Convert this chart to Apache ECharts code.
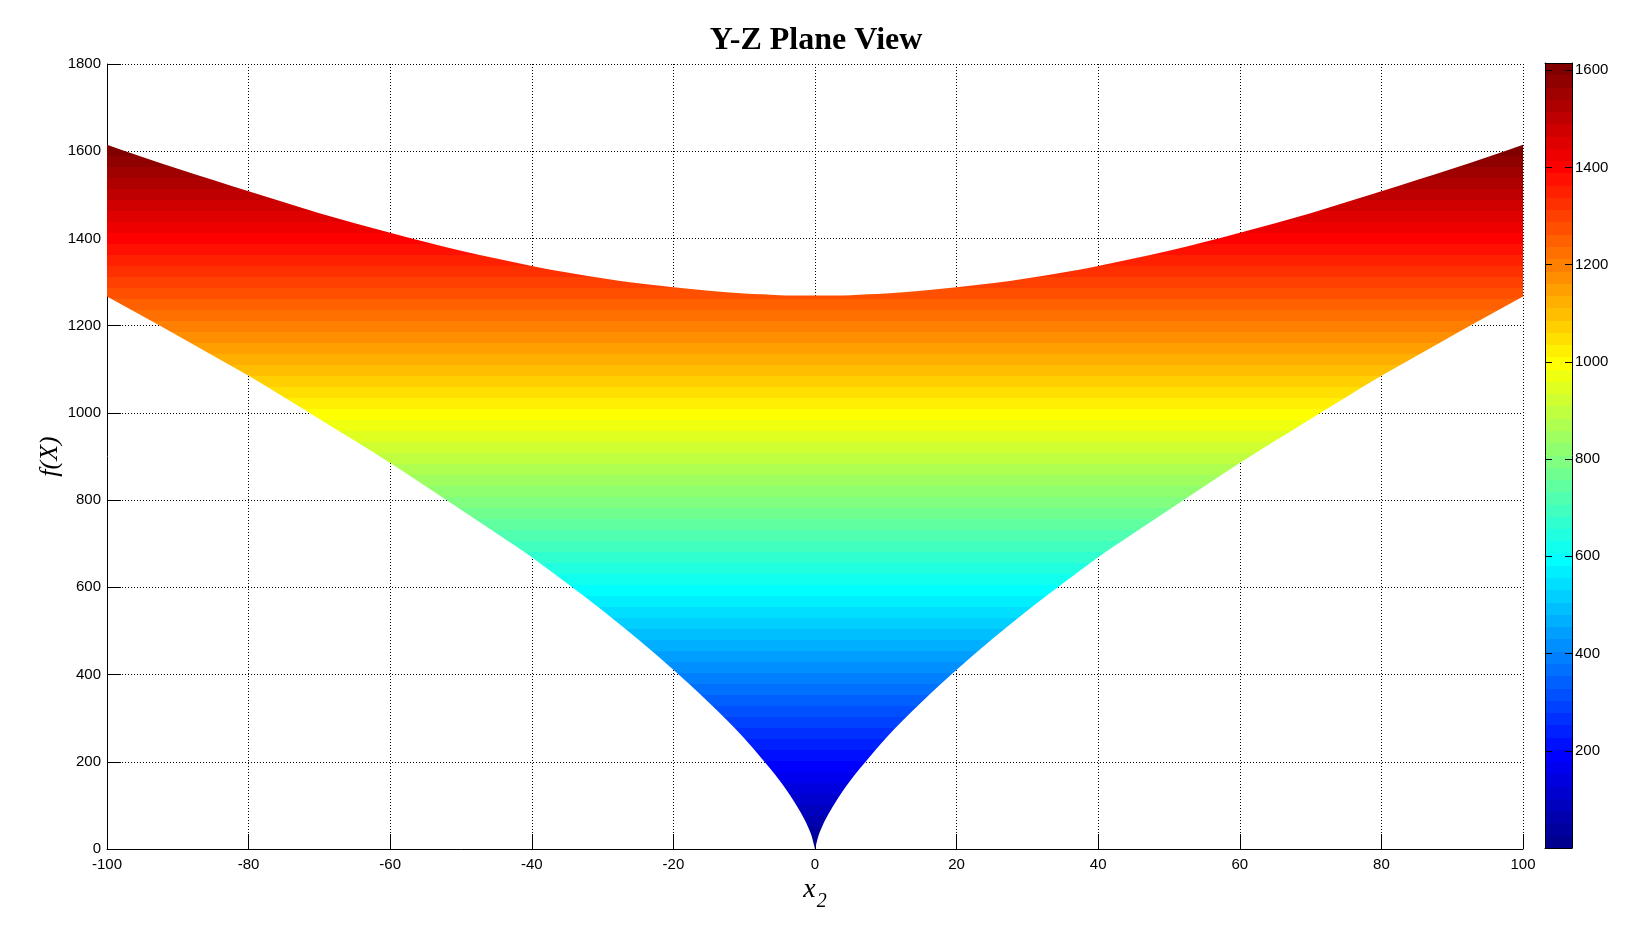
<!DOCTYPE html>
<html>
<head>
<meta charset="utf-8">
<script src="https://cdn.jsdelivr.net/npm/echarts@6/dist/echarts.min.js"></script>
<style>
html, body { margin: 0; padding: 0; background: #fff; }
#main { width: 1632px; height: 945px; }
</style>
</head>
<body>
<div id="main"></div>
<script>
// x2 samples (denser near the cusp at 0)
var x2 = [-100, -95, -90, -85, -80, -75, -70, -65, -60, -55, -50, -45, -40, -35, -30, -25, -20, -15, -10, -7.5, -5, -3, -2, -1, -0.5, 0,
          0.5, 1, 2, 3, 5, 7.5, 10, 15, 20, 25, 30, 35, 40, 45, 50, 55, 60, 65, 70, 75, 80, 85, 90, 95, 100];
// top edge of the coloured band
var upper = [1615, 1587, 1560, 1534, 1508, 1483, 1458, 1435, 1413, 1392, 1372, 1354, 1337, 1322, 1309, 1297, 1288, 1280, 1274, 1272, 1270, 1269, 1269, 1269, 1269, 1269,
             1269, 1269, 1269, 1269, 1270, 1272, 1274, 1280, 1288, 1297, 1309, 1322, 1337, 1354, 1372, 1392, 1413, 1435, 1458, 1483, 1508, 1534, 1560, 1587, 1615];
// bottom edge of the coloured band
var lower = [1267, 1222, 1177, 1131, 1085, 1036, 986, 936, 885, 832, 778, 724, 669, 609, 547, 481, 411, 336, 254, 207, 157, 110, 83, 51, 31, 0,
             31, 51, 83, 110, 157, 207, 254, 336, 411, 481, 547, 609, 669, 724, 778, 832, 885, 936, 986, 1036, 1085, 1131, 1177, 1222, 1267];

var cMin = 0;
var cMax = Math.max.apply(null, upper);

// MATLAB jet colormap with n entries
function jet(n) {
    var m = Math.ceil(n / 4), u = [], i;
    for (i = 1; i <= m; i++) u.push(i / m);
    for (i = 1; i < m; i++) u.push(1);
    for (i = m; i >= 1; i--) u.push(i / m);
    var off = Math.ceil(m / 2) - (n % 4 === 1 ? 1 : 0);
    var cols = [];
    for (i = 0; i < n; i++) cols.push([0, 0, 0]);
    for (i = 0; i < u.length; i++) {
        var g = off + i + 1, r = g + m, b = g - m;
        if (g >= 1 && g <= n) cols[g - 1][1] = u[i];
        if (r >= 1 && r <= n) cols[r - 1][0] = u[i];
        if (b >= 1 && b <= n) cols[b - 1][2] = u[i];
    }
    return cols.map(function (c) {
        return 'rgb(' + Math.round(c[0] * 255) + ',' + Math.round(c[1] * 255) + ',' + Math.round(c[2] * 255) + ')';
    });
}

var colors = jet(64);
var stops = [];
colors.forEach(function (c, k) {
    stops.push({ offset: k / 64, color: c });
    stops.push({ offset: (k + 1) / 64, color: c });
});

function gradient(api) {
    var p0 = api.coord([0, cMin]);
    var p1 = api.coord([0, cMax]);
    return new echarts.graphic.LinearGradient(0, p0[1], 0, p1[1], stops, true);
}

// monotone cubic (Fritsch-Carlson) through pixel points, as bezier segments
function monoSegs(p) {
    var n = p.length, h = [], d = [], m = [], i;
    for (i = 0; i < n - 1; i++) {
        h.push(p[i + 1][0] - p[i][0]);
        d.push((p[i + 1][1] - p[i][1]) / h[i]);
    }
    m[0] = d[0];
    m[n - 1] = d[n - 2];
    for (i = 1; i < n - 1; i++) {
        m[i] = d[i - 1] * d[i] <= 0 ? 0 : (h[i] * d[i - 1] + h[i - 1] * d[i]) / (h[i - 1] + h[i]);
    }
    for (i = 0; i < n - 1; i++) {
        if (d[i] === 0) { m[i] = 0; m[i + 1] = 0; continue; }
        var a = m[i] / d[i], b = m[i + 1] / d[i], s = a * a + b * b;
        if (s > 9) { var t = 3 / Math.sqrt(s); m[i] = t * a * d[i]; m[i + 1] = t * b * d[i]; }
    }
    var segs = [];
    for (i = 0; i < n - 1; i++) {
        segs.push([
            p[i],
            [p[i][0] + h[i] / 3, p[i][1] + m[i] * h[i] / 3],
            [p[i + 1][0] - h[i] / 3, p[i + 1][1] - m[i + 1] * h[i] / 3],
            p[i + 1]
        ]);
    }
    return segs;
}

function f(pt) { return pt[0].toFixed(2) + ' ' + pt[1].toFixed(2); }

function renderBand(params, api) {
    if (params.dataIndex !== 0) return null;
    var top = [], bot = [], i, zero = x2.indexOf(0);
    for (i = 0; i < x2.length; i++) {
        top.push(api.coord([x2[i], upper[i]]));
        bot.push(api.coord([x2[i], lower[i]]));
    }
    var path = 'M' + f(top[0]);
    monoSegs(top).forEach(function (s) { path += ' C' + f(s[1]) + ' ' + f(s[2]) + ' ' + f(s[3]); });
    path += ' L' + f(bot[bot.length - 1]);
    // lower edge has a cusp at 0: smooth each side on its own, walk back right to left
    var halves = [bot.slice(zero), bot.slice(0, zero + 1)];
    halves.forEach(function (half) {
        monoSegs(half).reverse().forEach(function (s) {
            path += ' C' + f(s[2]) + ' ' + f(s[1]) + ' ' + f(s[0]);
        });
    });
    path += ' Z';
    return {
        type: 'path',
        shape: { pathData: path },
        style: { fill: gradient(api), stroke: null }
    };
}

function renderBar(params, api) {
    var a = api.coord([0, cMax]);
    var b = api.coord([1, cMin]);
    return {
        type: 'rect',
        shape: { x: a[0], y: a[1], width: b[0] - a[0], height: b[1] - a[1] },
        style: { fill: gradient(api), stroke: null }
    };
}

function plain(v) { return String(v); }

var sans = 'Liberation Sans, Arial, sans-serif';
var serif = 'Liberation Serif, Times New Roman, serif';
var black = '#000';
var dotted = { color: black, width: 1, type: [1, 2] };

var chart = echarts.init(document.getElementById('main'));
chart.setOption({
    animation: false,
    backgroundColor: '#fff',
    textStyle: { fontFamily: sans, color: black },
    title: {
        text: 'Y-Z Plane View',
        left: 'center',
        top: 20,
        textStyle: { fontFamily: serif, fontWeight: 'bold', fontSize: 32, color: black }
    },
    grid: [
        { left: 107, top: 64, width: 1416, height: 785, outerBoundsMode: 'none' },
        { left: 1545, top: 63, width: 27, height: 785, outerBoundsMode: 'none' }
    ],
    xAxis: [{
        gridIndex: 0, type: 'value', min: -100, max: 100, interval: 20, position: 'bottom',
        axisLine: { show: true, onZero: false, lineStyle: { color: black, width: 1 } },
        axisTick: { show: true, inside: true, length: 15, lineStyle: { color: black } },
        axisLabel: { color: black, fontSize: 15, fontFamily: sans, margin: 8, formatter: plain },
        splitLine: { show: true, lineStyle: dotted },
        name: '{a|x}{b|2}',
        nameLocation: 'middle',
        nameGap: 31,
        nameMoveOverlap: false,
        nameTextStyle: {
            verticalAlign: 'top',
            rich: {
                a: { fontFamily: serif, fontStyle: 'italic', fontSize: 28, lineHeight: 28, padding: [0, 0, 8, 0], color: black },
                b: { fontFamily: serif, fontStyle: 'italic', fontSize: 20, lineHeight: 20, padding: [16, 0, 0, 1], color: black }
            }
        }
    }, {
        gridIndex: 1, type: 'value', min: 0, max: 1, position: 'bottom', z: 5,
        axisLine: { show: true, onZero: false, lineStyle: { color: black, width: 1 } },
        axisTick: { show: false }, axisLabel: { show: false }, splitLine: { show: false }
    }, {
        gridIndex: 1, type: 'value', min: 0, max: 1, position: 'top', z: 5,
        axisLine: { show: true, onZero: false, lineStyle: { color: black, width: 1 } },
        axisTick: { show: false }, axisLabel: { show: false }, splitLine: { show: false }
    }],
    yAxis: [{
        gridIndex: 0, type: 'value', min: 0, max: 1800, interval: 200, position: 'left',
        axisLine: { show: true, onZero: false, lineStyle: { color: black, width: 1 } },
        axisTick: { show: true, inside: true, length: 14, lineStyle: { color: black } },
        axisLabel: { color: black, fontSize: 15, fontFamily: sans, margin: 6, formatter: plain },
        splitLine: { show: true, lineStyle: dotted },
        name: 'f(X)',
        nameLocation: 'middle',
        nameGap: 44,
        nameMoveOverlap: false,
        nameTextStyle: { fontFamily: serif, fontStyle: 'italic', fontSize: 26, color: black }
    }, {
        gridIndex: 1, type: 'value', min: cMin, max: cMax, interval: 200, position: 'right', z: 5,
        axisLine: { show: true, onZero: false, lineStyle: { color: black, width: 1 } },
        axisTick: { show: true, inside: true, length: 7, lineStyle: { color: black } },
        axisLabel: { color: black, fontSize: 15, fontFamily: sans, margin: 3, showMinLabel: false, showMaxLabel: false, formatter: plain },
        splitLine: { show: false }
    }, {
        gridIndex: 1, type: 'value', min: cMin, max: cMax, interval: 200, position: 'left', z: 5,
        axisLine: { show: true, onZero: false, lineStyle: { color: black, width: 1 } },
        axisTick: { show: true, inside: true, length: 7, lineStyle: { color: black } },
        axisLabel: { show: false },
        splitLine: { show: false }
    }],
    series: [{
        type: 'custom',
        xAxisIndex: 0,
        yAxisIndex: 0,
        renderItem: renderBand,
        encode: { x: 0, y: [1, 2] },
        data: x2.map(function (x, i) { return [x, lower[i], upper[i]]; }),
        silent: true
    }, {
        type: 'custom',
        xAxisIndex: 1,
        yAxisIndex: 1,
        renderItem: renderBar,
        encode: { x: 0, y: 1 },
        data: [[0, cMax]],
        silent: true
    }]
});
</script>
</body>
</html>
